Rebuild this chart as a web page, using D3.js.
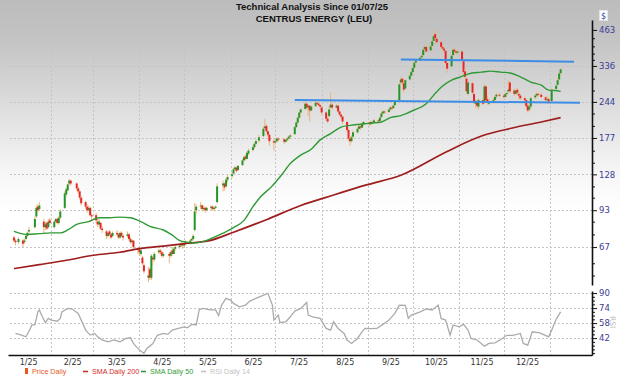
<!DOCTYPE html>
<html>
<head>
<meta charset="utf-8">
<script src="https://cdn.jsdelivr.net/npm/d3@7"></script>
<style>
  body { margin: 0; background: #fff; }
  #chart { width: 620px; height: 376px; }
</style>
</head>
<body>
<div id="chart"></div>
<script>
// ---------------- data ----------------
const parse = d3.timeParse("%Y-%m-%d");

// market closed on these weekdays
const holidays = ["2025-01-09", "2025-01-20", "2025-02-17", "2025-04-18", "2025-05-26", "2025-06-19",
    "2025-07-04", "2025-09-01", "2025-11-27", "2025-12-25", "2026-01-01"];
const firstDay = "2025-01-07";
const lastDay = "2026-01-08";

// daily OHLC, one line per month
const opens = [
    73,71,70,71,70,72,74,77,80,88,96,94,84,80,83,80,85,
    80,84,86,83,87,95,107,111,118,121,118,113,110,104,100,96,93,95,89,
    89,84,82,83,79,77,74,77,75,74,76,75,73,76,74,74,75,72,70,71,66,
    66,63,61,57,51,55,51,61,60,64,65,64,62,63,62,65,63,66,67,68,69,
    68,69,70,71,72,78,93,97,97,94,95,93,95,96,94,95,100,116,118,115,122,
    126,129,134,136,133,139,145,150,147,154,159,163,168,173,180,193,197,188,182,172,
    170,172,176,175,171,174,176,179,183,195,203,212,222,229,240,232,236,226,235,242,240,237,
    232,222,210,215,232,238,232,236,224,218,214,204,190,176,172,179,186,192,196,194,200,
    203,200,204,204,207,206,213,220,224,223,228,232,231,237,248,290,300,288,275,298,308,
    318,331,346,353,363,370,390,398,386,402,420,446,428,415,398,392,384,345,335,370,388,382,378,
    382,350,320,300,262,288,262,240,245,234,248,242,280,250,240,246,248,256,260,
    258,255,262,268,290,270,262,272,262,258,252,248,236,228,234,254,258,262,260,254,248,250,
    246,274,284,298,315
];
const highs = [
    74,72,73,72,72,75,77,80,88,97,98,100,86,84,84,86,87,
    85,87,87,88,94,110,114,118,123,122,119,115,111,106,101,98,97,96,91,
    91,86,86,84,81,78,77,78,76,77,78,76,77,77,75,77,76,73,72,71,67,
    67,66,62,58,56,56,63,62,64,66,66,65,64,64,65,67,67,68,69,70,70,
    71,71,72,73,75,99,98,100,98,97,96,96,97,97,96,97,118,121,119,124,127,
    131,136,138,137,139,147,151,152,157,161,166,170,175,182,196,210,200,190,184,176,
    175,178,178,176,176,178,181,183,197,205,214,224,230,245,242,238,237,236,246,245,243,239,
    234,224,214,235,265,242,240,237,226,220,215,206,192,180,181,189,195,199,198,203,206,
    205,207,206,210,209,214,223,227,226,230,235,234,238,248,290,305,302,290,298,312,322,
    334,348,356,366,372,393,405,402,405,425,445,462,434,420,402,396,386,350,372,395,392,388,386,
    385,352,330,302,295,292,264,250,248,252,250,285,284,258,250,252,258,265,264,
    262,264,268,295,294,275,272,276,268,262,256,250,240,238,256,262,266,264,265,258,256,254,
    275,285,300,318,330
];
const lows = [
    70,68,69,67,69,71,73,76,79,87,91,93,76,78,78,79,82,
    79,83,82,82,86,94,105,110,116,116,111,108,102,97,94,91,92,88,85,
    83,80,81,78,76,72,73,74,72,73,74,72,72,73,71,73,71,69,69,66,63,
    62,62,57,53,49,50,50,57,59,63,63,61,61,58,61,62,63,65,66,67,66,
    67,68,69,70,71,77,90,94,92,93,91,92,93,93,92,94,99,110,111,114,119,
    124,128,132,130,132,138,143,145,146,152,157,161,166,170,178,190,186,179,165,158,
    167,170,172,168,170,172,174,176,182,193,201,210,218,228,228,215,205,224,233,236,234,230,
    218,206,202,212,230,228,230,222,215,210,200,186,172,165,170,177,184,190,190,193,197,
    196,199,200,202,203,205,211,218,219,221,226,226,229,235,246,285,285,265,273,295,305,
    315,328,340,350,355,368,385,378,384,396,416,425,410,395,386,380,340,316,332,366,376,372,372,
    350,310,300,262,258,262,240,232,230,228,236,240,244,238,236,240,246,252,255,
    250,253,258,265,264,258,260,262,250,248,238,230,222,224,232,250,254,256,252,244,244,240,
    244,270,282,295,310
];
const closes = [
    71,70,72,69,71,74,76,78,86,95,93,97,80,82,79,84,83,
    84,86,83,87,92,108,112,117,121,118,113,110,104,99,96,93,95,89,88,
    85,82,84,79,78,74,76,75,73,76,75,73,76,74,73,75,72,70,71,67,66,
    64,65,58,54,52,51,62,60,63,65,64,62,63,62,64,63,66,67,68,69,68,
    69,70,71,72,74,92,96,97,94,95,93,95,96,94,95,96,115,118,114,122,125,
    128,134,136,132,138,145,149,147,155,158,163,168,172,178,192,196,188,182,172,170,
    172,176,175,171,174,176,179,181,195,203,212,222,228,240,232,236,226,234,242,240,237,234,
    222,210,205,228,238,232,236,224,218,214,205,190,176,172,178,186,192,196,194,200,204,
    200,204,203,207,206,212,220,224,222,228,232,230,236,245,285,298,290,272,296,308,318,
    330,345,352,362,368,388,398,382,400,418,438,430,415,398,392,385,345,328,368,388,382,378,382,
    355,318,305,268,290,265,242,246,236,248,240,280,248,242,246,248,255,260,258,
    255,262,264,272,268,262,270,265,258,252,248,235,226,234,252,258,262,260,255,248,250,245,
    272,282,296,314,326
];

// moving averages
const sma50Dates = ["2025-01-07","2025-01-15","2025-01-24","2025-02-01","2025-02-07","2025-02-12","2025-02-18",
    "2025-02-26","2025-03-05","2025-03-12","2025-03-19","2025-03-26","2025-04-02","2025-04-08","2025-04-17",
    "2025-04-23","2025-04-28","2025-05-03","2025-05-07","2025-05-14","2025-05-20","2025-05-27","2025-06-03",
    "2025-06-10","2025-06-16","2025-06-21","2025-06-28","2025-07-05","2025-07-11","2025-07-18","2025-07-25",
    "2025-07-31","2025-08-07","2025-08-14","2025-08-20","2025-08-27","2025-09-03","2025-09-10","2025-09-16",
    "2025-09-23","2025-10-02","2025-10-10","2025-10-15","2025-10-20","2025-10-27","2025-11-02","2025-11-09",
    "2025-11-16","2025-11-22","2025-11-29","2025-12-06","2025-12-12","2025-12-19","2025-12-26","2025-12-31",
    "2026-01-04","2026-01-08"];
const sma50Values = [77,75,75.5,76,76,78,82,84,87,87,87.5,87,84,80.5,78,74.5,71,70,69.5,70.5,72.7,75.8,79.6,
    85,96,104.6,114,127,141,152,160,174,184,195,198,200,202,204,212,216,227,240,259,278,296,305,315,318,321,
    318,315,305,291,283,271,270,268];

const sma200Dates = ["2025-01-07","2025-01-24","2025-02-12","2025-03-01","2025-03-19","2025-04-02","2025-04-17",
    "2025-05-03","2025-05-18","2025-06-03","2025-06-25","2025-07-18","2025-08-09","2025-08-31","2025-09-23",
    "2025-10-24","2025-11-16","2025-12-06","2025-12-26","2026-01-08"];
const sma200Values = [55.3,57.3,59.7,62.3,64,66.2,67.6,69.3,71,76.5,85.5,97,106.5,116.5,127,157,180,193,204,212];

// RSI 14
const rsiDates = ["2025-01-08","2025-01-12","2025-01-15","2025-01-18","2025-01-19","2025-01-21","2025-01-23",
    "2025-01-24","2025-01-26","2025-01-28","2025-01-30","2025-02-01","2025-02-05","2025-02-07","2025-02-08",
    "2025-02-12","2025-02-15","2025-02-19","2025-02-22","2025-02-24","2025-02-27","2025-03-02","2025-03-04",
    "2025-03-07","2025-03-11","2025-03-15","2025-03-19","2025-03-23","2025-03-26","2025-03-28","2025-03-30",
    "2025-04-01","2025-04-04","2025-04-06","2025-04-10","2025-04-13","2025-04-17","2025-04-20","2025-04-23",
    "2025-04-27","2025-05-01","2025-05-03","2025-05-06","2025-05-09","2025-05-11","2025-05-13","2025-05-16",
    "2025-05-18","2025-05-22","2025-05-24","2025-05-26","2025-05-29","2025-06-01","2025-06-03","2025-06-07",
    "2025-06-11","2025-06-14","2025-06-18","2025-06-22","2025-06-26","2025-06-29","2025-06-30","2025-07-03",
    "2025-07-04","2025-07-08","2025-07-11","2025-07-14","2025-07-18","2025-07-22","2025-07-23","2025-07-26",
    "2025-07-31","2025-08-04","2025-08-07","2025-08-09","2025-08-12","2025-08-16","2025-08-18","2025-08-21",
    "2025-08-25","2025-08-28","2025-08-30","2025-09-03","2025-09-07","2025-09-11","2025-09-15","2025-09-19",
    "2025-09-22","2025-09-26","2025-09-28","2025-09-30","2025-10-06","2025-10-10","2025-10-14","2025-10-18",
    "2025-10-20","2025-10-23","2025-10-26","2025-10-28","2025-11-01","2025-11-04","2025-11-07","2025-11-09",
    "2025-11-13","2025-11-18","2025-11-21","2025-11-25","2025-11-29","2025-12-03","2025-12-07","2025-12-12",
    "2025-12-14","2025-12-17","2025-12-20","2025-12-25","2025-12-31","2026-01-02","2026-01-05","2026-01-08"];
const rsiValues = [47,45.2,43.4,52.3,56,56,70,72,64.7,58.7,63,61.2,60,63,70,73.7,73,68.3,57.7,50.5,45.2,47,43.4,
    40,38,40,38,41.6,42.3,36.3,32.7,29.2,25.7,31,36.3,45,47,46,50.5,52.3,54,53,56.6,56,72,73.7,73,72,72,66,77.2,
    84.3,82.5,79,75.4,77.2,81.4,84.3,87,89.7,77.2,61.2,66.5,58.7,59.4,64.7,70.8,73.7,80,66.5,64.7,63,52.3,50.5,
    59.4,52.3,47,40,36.3,41.6,48.7,52.3,52,52.3,56.6,61.2,68.3,77.2,77,63,66.5,70,73,72,77.2,63,61.2,45.2,56,54,
    56.6,50.5,41.6,40,33.4,36.3,37,40.5,45,45,47,36.3,34.5,48.7,47.6,43.4,50.5,62,70];

// drawn trend lines [start date, start price, end date, end price]
const resistance = ["2025-09-23", 356, "2026-01-17", 349];
const support = ["2025-07-14", 248, "2026-01-21", 242];

// axis ticks
const priceTicks = [67, 93, 128, 177, 244, 336, 463];
const priceMinorTicks = [52, 58, 75, 84, 104, 115, 142, 158, 197, 220, 270, 300, 355, 375, 400, 430];
const rsiTicks = [42, 58, 74, 90];
const rsiMinorTicks = [26, 30, 34, 38, 46, 50, 54, 62, 66, 70, 78, 82, 86];

const legendItems = [
    {label: "Price Daily", color: "#e8581e", kind: "box", x: 25},
    {label: "SMA Daily 200", color: "#d42a2a", kind: "dash", x: 83},
    {label: "SMA Daily 50", color: "#2f9a35", kind: "dash", x: 141},
    {label: "RSI Daily 14", color: "#c2c2c2", kind: "dash", x: 201}
];

// ---------------- chart ----------------
class PriceChart {
    constructor(parentElement) {
        this.parentElement = parentElement;
        this.initVis();
    }

    initVis() {
        let vis = this;
        vis.width = 620;
        vis.height = 376;
        vis.left = 8;
        vis.right = 592;
        vis.mainTop = 20;
        vis.mainBottom = 285;
        vis.rsiTop = 291;
        vis.rsiBottom = 355;

        vis.svg = d3.select("#" + vis.parentElement).append("svg")
            .attr("width", vis.width)
            .attr("height", vis.height);

        // background fade
        let grad = vis.svg.append("defs").append("linearGradient")
            .attr("id", "bg").attr("x1", 0).attr("y1", 0).attr("x2", 0).attr("y2", 1);
        grad.append("stop").attr("offset", "0%").attr("stop-color", "#bcbcbc");
        grad.append("stop").attr("offset", "10%").attr("stop-color", "#c3c3c3");
        grad.append("stop").attr("offset", "46%").attr("stop-color", "#f6f6f6");
        grad.append("stop").attr("offset", "56%").attr("stop-color", "#ffffff");
        vis.svg.append("rect").attr("width", vis.width).attr("height", vis.height).attr("fill", "url(#bg)");

        vis.svg.select("defs").append("clipPath").attr("id", "clipMain")
            .append("rect").attr("x", vis.left).attr("y", vis.mainTop)
            .attr("width", vis.right - vis.left).attr("height", vis.mainBottom - vis.mainTop);
        vis.svg.select("defs").append("clipPath").attr("id", "clipRsi")
            .append("rect").attr("x", vis.left).attr("y", vis.rsiTop)
            .attr("width", vis.right - vis.left).attr("height", vis.rsiBottom - vis.rsiTop);

        // Scales
        vis.x = d3.scaleTime()
            .domain([parse("2025-01-03"), parse("2026-01-29")])
            .range([vis.left, vis.right]);
        vis.y = d3.scaleLog()
            .domain([47.8, 505.8])
            .range([vis.mainBottom, vis.mainTop]);
        vis.yRsi = d3.scaleLinear()
            .domain([24, 92.2])
            .range([vis.rsiBottom, vis.rsiTop]);

        vis.wrangleData();
    }

    wrangleData() {
        let vis = this;

        // trading calendar
        let fmt = d3.timeFormat("%Y-%m-%d");
        let days = d3.timeDay.range(parse(firstDay), d3.timeDay.offset(parse(lastDay), 1))
            .filter(d => d.getDay() !== 0 && d.getDay() !== 6 && !holidays.includes(fmt(d)));
        let n = Math.min(days.length, closes.length);

        vis.candles = [];
        for (let i = 0; i < n; i++) {
            vis.candles.push({date: days[i], o: opens[i], h: highs[i], l: lows[i], c: closes[i]});
        }
        vis.sma50 = sma50Dates.map((d, i) => ({date: parse(d), v: sma50Values[i]}));
        vis.sma200 = sma200Dates.map((d, i) => ({date: parse(d), v: sma200Values[i]}));
        vis.rsi = rsiDates.map((d, i) => ({date: parse(d), v: rsiValues[i]}));
        vis.trend = [resistance, support].map(t => [
            {date: parse(t[0]), v: t[1]}, {date: parse(t[2]), v: t[3]}
        ]);

        vis.updateVis();
    }

    updateVis() {
        let vis = this;
        let months = d3.timeMonth.range(parse("2025-02-01"), parse("2026-01-02"));

        // Grid
        let grid = vis.svg.append("g").attr("class", "grid")
            .attr("stroke", "#c4c4c4").attr("stroke-dasharray", "2,2").attr("stroke-width", 1);
        grid.selectAll(".vgrid").data(months).enter().append("line")
            .attr("x1", d => Math.round(vis.x(d)) + 0.5).attr("x2", d => Math.round(vis.x(d)) + 0.5)
            .attr("y1", 30).attr("y2", vis.rsiBottom);
        grid.selectAll(".hgrid").data(priceTicks.slice(0, -1)).enter().append("line")
            .attr("x1", 10).attr("x2", vis.right)
            .attr("y1", d => Math.round(vis.y(d)) + 0.5).attr("y2", d => Math.round(vis.y(d)) + 0.5);
        grid.selectAll(".rgrid").data(rsiTicks).enter().append("line")
            .attr("x1", 10).attr("x2", vis.right)
            .attr("y1", d => Math.round(vis.yRsi(d)) + 0.5).attr("y2", d => Math.round(vis.yRsi(d)) + 0.5);

        // Candles
        let main = vis.svg.append("g").attr("clip-path", "url(#clipMain)");
        let candle = main.selectAll(".candle").data(vis.candles).enter().append("g").attr("class", "candle");
        candle.append("line")
            .attr("x1", d => vis.x(d.date)).attr("x2", d => vis.x(d.date))
            .attr("y1", d => vis.y(d.h)).attr("y2", d => vis.y(d.l))
            .attr("stroke", "#e8b47c").attr("stroke-width", 1);
        candle.append("rect")
            .attr("x", d => vis.x(d.date) - 1)
            .attr("width", 2)
            .attr("y", d => vis.y(Math.max(d.o, d.c)))
            .attr("height", d => Math.max(1, Math.abs(vis.y(d.o) - vis.y(d.c))))
            .attr("fill", d => d.c >= d.o ? "#23962a" : "#e8262a");

        // Moving averages
        let line = d3.line().x(d => vis.x(d.date)).y(d => vis.y(d.v)).curve(d3.curveMonotoneX);
        main.append("path").datum(vis.sma200).attr("d", line)
            .attr("fill", "none").attr("stroke", "#9e1d1d").attr("stroke-width", 1.7);
        main.append("path").datum(vis.sma50).attr("d", line)
            .attr("fill", "none").attr("stroke", "#2f9a35").attr("stroke-width", 1.4);

        // Trend lines
        let straight = d3.line().x(d => vis.x(d.date)).y(d => vis.y(d.v));
        main.selectAll(".trend").data(vis.trend).enter().append("path")
            .attr("d", straight)
            .attr("fill", "none").attr("stroke", "#3d8de6").attr("stroke-width", 2);

        // RSI
        let rsiLine = d3.line().x(d => vis.x(d.date)).y(d => vis.yRsi(d.v));
        vis.svg.append("g").attr("clip-path", "url(#clipRsi)")
            .append("path").datum(vis.rsi).attr("d", rsiLine)
            .attr("fill", "none").attr("stroke", "#ababab").attr("stroke-width", 1.3);

        // Axes
        let axisFont = "'DejaVu Sans', Verdana, sans-serif";
        let yAxis = d3.axisRight(vis.y).tickValues(priceTicks).tickFormat(d3.format("d"))
            .tickSize(5).tickSizeOuter(0).tickPadding(2);
        let yMinor = d3.axisRight(vis.y).tickValues(priceMinorTicks).tickFormat("").tickSize(3).tickSizeOuter(0);
        let rAxis = d3.axisRight(vis.yRsi).tickValues(rsiTicks).tickFormat(d3.format("d"))
            .tickSize(5).tickSizeOuter(0).tickPadding(2);
        let rMinor = d3.axisRight(vis.yRsi).tickValues(rsiMinorTicks).tickFormat("").tickSize(3).tickSizeOuter(0);

        [[yAxis, yMinor], [rAxis, rMinor]].forEach(pair => {
            let g = vis.svg.append("g").attr("transform", "translate(" + vis.right + ",0)").call(pair[0]);
            g.select(".domain").attr("stroke", "#111").attr("stroke-width", 1.6);
            g.selectAll(".tick line").attr("stroke", "#111");
            g.selectAll("text").attr("fill", "#3b3b94").style("font-family", axisFont).style("font-size", "8.5px");
            let m = vis.svg.append("g").attr("transform", "translate(" + vis.right + ",0)").call(pair[1]);
            m.select(".domain").remove();
            m.selectAll(".tick line").attr("stroke", "#111");
        });

        let monthMids = d3.timeMonth.range(parse("2025-01-01"), parse("2026-01-01"))
            .map(d => new Date((+d + +d3.timeMonth.offset(d, 1)) / 2));
        let xAxis = d3.axisBottom(vis.x).tickValues(monthMids).tickFormat(d3.timeFormat("%-m/%y"))
            .tickSize(0).tickPadding(4);
        let xg = vis.svg.append("g").attr("transform", "translate(0," + vis.rsiBottom + ")").call(xAxis);
        xg.select(".domain").attr("stroke", "#111").attr("stroke-width", 1.6);
        xg.selectAll("text").attr("fill", "#333").style("font-family", axisFont).style("font-size", "8px");

        // "$" box and RSI label
        vis.svg.append("rect").attr("x", 599.5).attr("y", 10.5).attr("width", 8).attr("height", 10)
            .attr("fill", "#fff").attr("stroke", "#e4e4e4");
        vis.svg.append("text").attr("x", 603.5).attr("y", 18.5).attr("text-anchor", "middle")
            .attr("fill", "#3344aa").style("font-family", axisFont).style("font-size", "8px").text("$");
        vis.svg.append("text").attr("transform", "translate(610,316) rotate(90)")
            .attr("fill", "#bdbdbd").style("font-family", axisFont).style("font-size", "7.5px").text("RSI");

        // Title
        let titleFont = "'Liberation Sans', Arial, sans-serif";
        vis.svg.append("text").attr("x", 312).attr("y", 10).attr("text-anchor", "middle")
            .style("font-family", titleFont).style("font-size", "9.5px").style("font-weight", "bold")
            .attr("fill", "#111").text("Technical Analysis Since 01/07/25");
        vis.svg.append("text").attr("x", 314).attr("y", 21.5).attr("text-anchor", "middle")
            .style("font-family", titleFont).style("font-size", "9.5px").style("font-weight", "bold")
            .attr("fill", "#111").text("CENTRUS ENERGY (LEU)");

        // Legend
        let legend = vis.svg.append("g").attr("class", "legend");
        legendItems.forEach(item => {
            if (item.kind === "box") {
                legend.append("rect").attr("x", item.x).attr("y", 368).attr("width", 3).attr("height", 6)
                    .attr("fill", item.color);
            } else {
                legend.append("line").attr("x1", item.x).attr("x2", item.x + 5)
                    .attr("y1", 371.5).attr("y2", 371.5).attr("stroke", item.color).attr("stroke-width", 1.6);
            }
            legend.append("text").attr("x", item.x + (item.kind === "box" ? 7 : 9)).attr("y", 374)
                .style("font-family", titleFont).style("font-size", "7.2px")
                .attr("fill", item.color).text(item.label);
        });
    }
}

let chart = new PriceChart("chart");
</script>
</body>
</html>
